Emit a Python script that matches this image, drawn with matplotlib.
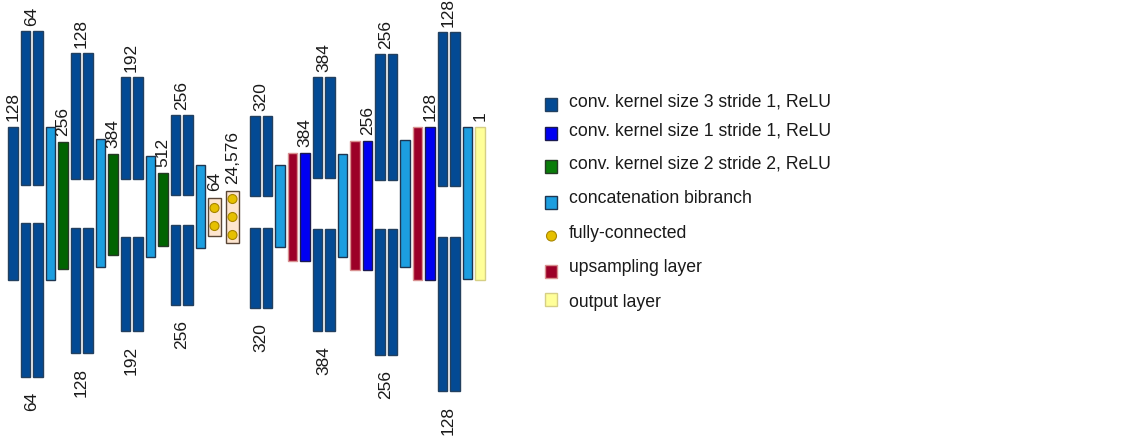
import matplotlib
matplotlib.use('Agg')
import matplotlib.pyplot as plt
from matplotlib.patches import Rectangle, Circle

plt.rcParams['font.family'] = ['Liberation Sans', 'DejaVu Sans']

# layers of the network from left to right
kinds = ['conv3', 'conv3x2', 'concat', 'down',
         'conv3x2', 'concat', 'down',
         'conv3x2', 'concat', 'down',
         'conv3x2', 'concat', 'fc', 'fc',
         'conv3x2', 'concat', 'up', 'conv1',
         'conv3x2', 'concat', 'up', 'conv1',
         'conv3x2', 'concat', 'up', 'conv1',
         'conv3x2', 'concat', 'out']
channels = ['128', '64', None, '256',
            '128', None, '384',
            '192', None, '512',
            '256', None, '64', '24,576',
            '320', None, None, '384',
            '384', None, None, '256',
            '256', None, None, '128',
            '128', None, '1']
fc_dots = [2, 3]

# drawn extent of each layer (upper branch, and lower branch for the two-branch convs)
upper = [(128, 281), (32, 186), (128, 281), (143, 270),
         (54, 180), (140, 268), (155, 256),
         (78, 180), (157, 258), (174, 247),
         (116, 196), (166, 249), (199, 237), (192, 244),
         (117, 197), (166, 248), (154, 262), (154, 262),
         (78, 179), (155, 258), (142, 271), (142, 271),
         (55, 181), (141, 268), (128, 281), (128, 281),
         (33, 187), (128, 280), (128, 281)]
lower = [None, (224, 378), None, None,
         (229, 354), None, None,
         (238, 332), None, None,
         (226, 306), None, None, None,
         (229, 309), None, None, None,
         (230, 332), None, None, None,
         (230, 356), None, None, None,
         (238, 392), None, None]

legend_kinds = ['conv3', 'conv1', 'down', 'concat', 'fc', 'up', 'out']
legend_labels = ['conv. kernel size 3 stride 1, ReLU',
                 'conv. kernel size 1 stride 1, ReLU',
                 'conv. kernel size 2 stride 2, ReLU',
                 'concatenation bibranch',
                 'fully-connected',
                 'upsampling layer',
                 'output layer']

face = {'conv3': '#034a94', 'conv1': '#0000f2', 'down': '#006400',
        'concat': '#1c9ee0', 'up': '#9c0028', 'out': '#ffff99', 'fc': '#fde5cf'}
edge = {'conv3': '#23405f', 'conv1': '#1a1a50', 'down': '#263a26',
        'concat': '#1e3550', 'up': '#d89090', 'out': '#d6cf85', 'fc': '#5a4636'}
dot_face, dot_edge = '#e6c000', '#a88600'
txt_col = '#1a1a1a'

fig = plt.figure(figsize=(11.36, 4.39), dpi=100)
ax = fig.add_axes([0, 0, 1, 1])
ax.set_xlim(0, 1136)
ax.set_ylim(439, 0)
ax.axis('off')

bw = 9.5    # bar width
step = 12.5
fs = 12.5


def bar(x, span, kind):
    ax.add_patch(Rectangle((x, span[0]), bw, span[1] - span[0],
                           facecolor=face[kind], edgecolor=edge[kind], lw=1))


def label(x, y, s, va):
    ax.text(x, y, s, rotation=90, ha='center', va=va, fontsize=fs, color=txt_col)


x = 8
fc_i = 0
for i, kind in enumerate(kinds):
    if kind == 'conv3x2':
        for k in range(2):
            bar(x + k * step, upper[i], 'conv3')
            bar(x + k * step, lower[i], 'conv3')
        cx = x + (step + bw) / 2
        label(cx, upper[i][0] - 6, channels[i], 'bottom')
        label(cx, lower[i][1] + 14, channels[i], 'top')
        x += 2 * step
    elif kind == 'fc':
        y0, y1 = upper[i]
        w = 13
        ax.add_patch(Rectangle((x, y0), w, y1 - y0, facecolor=face['fc'],
                               edgecolor=edge['fc'], lw=1))
        n = fc_dots[fc_i]
        fc_i += 1
        mid = (y0 + y1) / 2
        for d in range(n):
            cy = mid + (d - (n - 1) / 2) * 18
            ax.add_patch(Circle((x + w / 2, cy), 4.5, facecolor=dot_face,
                                edgecolor=dot_edge, lw=0.8))
        label(x + w / 2, y0 - 8, channels[i], 'bottom')
        x += 18
        if i + 1 < len(kinds) and kinds[i + 1] != 'fc':
            x += 6
    else:
        bar(x, upper[i], kind)
        if channels[i] is not None:
            label(x + bw / 2, upper[i][0] - 7, channels[i], 'bottom')
        x += step

# legend
mark_y = [105, 134, 167, 203, 237, 272, 300]
text_y = [102, 131, 164, 199, 234, 268, 303]
legend_face = dict(face, down='#0a7d0a')
for kind, text, my, ty in zip(legend_kinds, legend_labels, mark_y, text_y):
    if kind == 'fc':
        ax.add_patch(Circle((551.5, my), 5, facecolor=dot_face,
                            edgecolor=dot_edge, lw=0.8))
    else:
        ax.add_patch(Rectangle((545, my - 6.5), 12, 13, facecolor=legend_face[kind],
                               edgecolor=edge[kind], lw=1))
    ax.text(569, ty, text, ha='left', va='center', fontsize=12.7, color=txt_col)

fig.savefig('out.png', dpi=100)
